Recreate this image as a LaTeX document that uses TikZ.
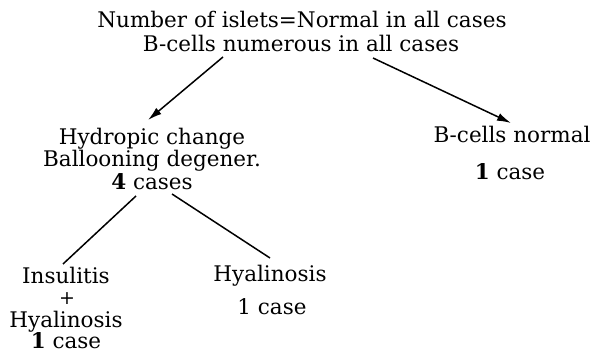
\documentclass[tikz,border=0pt]{standalone}
\usepackage{fontspec}
\setmainfont{DejaVu Serif}
\usetikzlibrary{arrows.meta,calc}
\begin{document}
\begin{tikzpicture}[x=1pt,y=-1pt,
  lbl/.style={inner sep=0pt,anchor=base,font=\fontsize{21.5}{25}\selectfont},
  arr/.style={line width=1.5pt,-{Latex[length=14pt,width=8pt]}},
  link/.style={line width=1.5pt}]
\useasboundingbox (0,0) rectangle (592,355);

% root
\node[lbl] (t1) at (302,28) {Number of islets=Normal in all cases};
\node[lbl] (t2) at (301,52) {B-cells numerous in all cases};

% first level, left
\node[lbl] (h1) at (152,145) {Hydropic change};
\node[lbl] (h2) at (152,167) {Ballooning degener.};
\node[lbl] (h3) at (152,190) {\textbf{4} cases};

% first level, right
\node[lbl] (b1) at (512,143) {B-cells normal};
\node[lbl] (b2) at (510,180) {\textbf{1} case};

% second level, left
\node[lbl] (i1) at (66,284) {Insulitis};
\node[lbl,font=\fontsize{19}{21}\selectfont] (i2) at (67,305) {+};
\node[lbl] (i3) at (66,328) {Hyalinosis};
\node[lbl] (i4) at (66,349) {\textbf{1} case};

% second level, right
\node[lbl] (y1) at (270,282) {Hyalinosis};
\node[lbl] (y2) at (272,315) {1 case};

% connectors
\draw[arr] ($(t2.base)+(-78,5)$) -- ($(h1.base)+(-4,-25)$);
\draw[arr] ($(t2.base)+(72,6)$) -- ($(b1.base)+(-1,-20)$);
\draw[link] ($(h3.base)+(-16,6)$) -- ($(i1.base)+(-3,-20)$);
\draw[link] ($(h3.base)+(20,4)$) -- ($(y1.base)+(0,-24)$);
\end{tikzpicture}
\end{document}
